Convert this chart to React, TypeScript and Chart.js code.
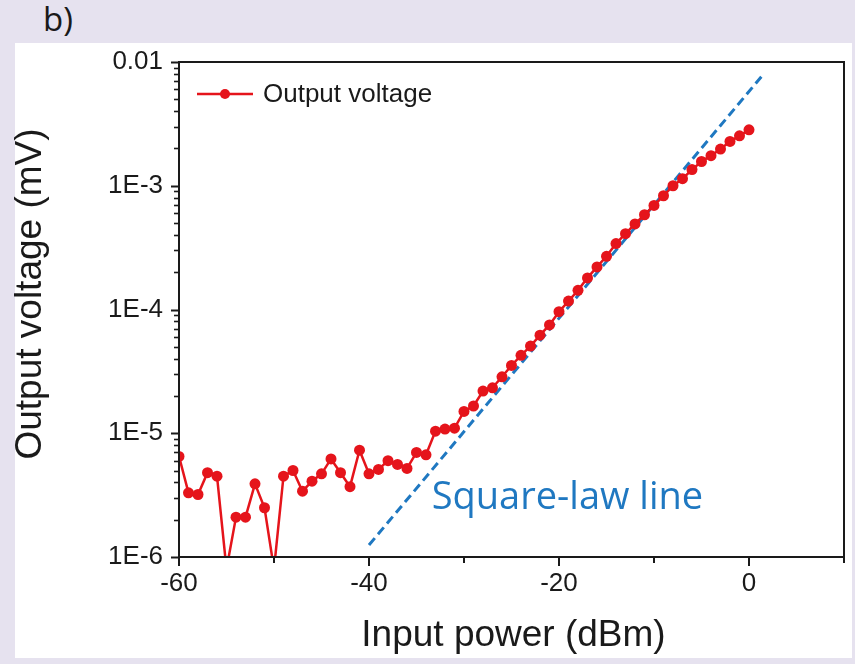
import React, { useEffect, useRef } from 'react';
import { Chart, registerables } from 'chart.js';

Chart.register(...registerables);

// ---- data ----
const inputPower: number[] = [
  -60, -59, -58, -57, -56, -55, -54, -53, -52, -51,
  -50, -49, -48, -47, -46, -45, -44, -43, -42, -41,
  -40, -39, -38, -37, -36, -35, -34, -33, -32, -31,
  -30, -29, -28, -27, -26, -25, -24, -23, -22, -21,
  -20, -19, -18, -17, -16, -15, -14, -13, -12, -11,
  -10, -9, -8, -7, -6, -5, -4, -3, -2, -1, 0,
];
const outputVoltage: number[] = [
  6.5e-6, 3.3e-6, 3.2e-6, 4.8e-6, 4.5e-6, 8e-7, 2.1e-6, 2.1e-6, 3.9e-6, 2.5e-6,
  8e-7, 4.5e-6, 5.0e-6, 3.4e-6, 4.1e-6, 4.7e-6, 6.2e-6, 4.8e-6, 3.7e-6, 7.3e-6,
  4.7e-6, 5.1e-6, 6.0e-6, 5.6e-6, 5.2e-6, 7.0e-6, 6.7e-6, 1.04e-5, 1.08e-5, 1.1e-5,
  1.5e-5, 1.66e-5, 2.19e-5, 2.33e-5, 2.86e-5, 3.53e-5, 4.26e-5, 5.06e-5, 6.2e-5, 7.5e-5,
  9.6e-5, 1.17e-4, 1.43e-4, 1.8e-4, 2.21e-4, 2.69e-4, 3.41e-4, 4.1e-4, 4.91e-4, 5.83e-4,
  6.93e-4, 8.3e-4, 1.0e-3, 1.14e-3, 1.35e-3, 1.57e-3, 1.75e-3, 1.98e-3, 2.28e-3, 2.53e-3, 2.83e-3,
];
const squareLawX: number[] = [-40, 1.3];
const squareLawY: number[] = [1.25e-6, 7.6e-3];

const xTickValues: number[] = [-60, -50, -40, -30, -20, -10, 0, 10];
const xLabelledTicks: number[] = [-60, -40, -20, 0];
const yMajorValues: number[] = [1e-6, 1e-5, 1e-4, 1e-3, 1e-2];
const yMajorLabels: string[] = ['1E-6', '1E-5', '1E-4', '1E-3', '0.01'];

const seriesLabel = 'Output voltage';
const lineLabel = 'Square-law line';
const xTitle = 'Input power (dBm)';
const yTitle = 'Output voltage (mV)';

const RED = '#e5141b';
const BLUE = '#1f78c1';
const INK = '#1a1a1a';
const SANS = '"Liberation Sans", Arial, sans-serif';

const decorPlugin = {
  id: 'decor',
  afterDraw(chart: any) {
    const { ctx, chartArea: a, scales } = chart;
    const xs = scales.x;
    const ys = scales.y;
    ctx.save();
    ctx.strokeStyle = INK;
    ctx.lineWidth = 2;
    // frame
    ctx.strokeRect(a.left, a.top, a.right - a.left, a.bottom - a.top);
    // y ticks (major + minor, outward)
    for (let e = -6; e <= -2; e++) {
      for (let m = 1; m <= 9; m++) {
        const v = m * Math.pow(10, e);
        if (v > 1.0001e-2) break;
        const py = Math.round(ys.getPixelForValue(v)) + 0.5;
        const len = m === 1 ? 8 : 5;
        ctx.lineWidth = m === 1 ? 2 : 1.6;
        ctx.beginPath();
        ctx.moveTo(a.left - len, py);
        ctx.lineTo(a.left, py);
        ctx.stroke();
      }
    }
    // x ticks
    xTickValues.forEach((v) => {
      const px = Math.round(xs.getPixelForValue(v));
      const len = xLabelledTicks.includes(v) ? 9 : 6;
      ctx.lineWidth = 2;
      ctx.beginPath();
      ctx.moveTo(px, a.bottom);
      ctx.lineTo(px, a.bottom + len);
      ctx.stroke();
    });
    // axis titles
    ctx.fillStyle = INK;
    ctx.font = `37px ${SANS}`;
    ctx.textAlign = 'center';
    ctx.textBaseline = 'middle';
    ctx.fillText(xTitle, (a.left + a.right) / 2 + 2, 636);
    ctx.save();
    ctx.translate(31, 294);
    ctx.rotate(-Math.PI / 2);
    ctx.fillText(yTitle, 0, 0);
    ctx.restore();
    // legend
    const ly = a.top + 32;
    const lx0 = a.left + 18;
    ctx.strokeStyle = RED;
    ctx.lineWidth = 2.5;
    ctx.beginPath();
    ctx.moveTo(lx0, ly);
    ctx.lineTo(lx0 + 56, ly);
    ctx.stroke();
    ctx.fillStyle = RED;
    ctx.beginPath();
    ctx.arc(lx0 + 28, ly, 5, 0, Math.PI * 2);
    ctx.fill();
    ctx.fillStyle = INK;
    ctx.font = `26px ${SANS}`;
    ctx.textAlign = 'left';
    ctx.textBaseline = 'middle';
    ctx.fillText(chart.data.datasets[0].label, lx0 + 66, ly + 1);
    // square-law label
    ctx.fillStyle = BLUE;
    ctx.font = '38px "Open Sans", sans-serif';
    ctx.fillText(lineLabel, xs.getPixelForValue(-33.4), ys.getPixelForValue(3.0e-6));
    ctx.restore();
  },
};

export default function App() {
  const ref = useRef<HTMLCanvasElement | null>(null);

  useEffect(() => {
    if (!ref.current) return;
    const chart = new Chart(ref.current, {
      type: 'line',
      data: {
        datasets: [
          {
            label: seriesLabel,
            data: inputPower.map((x, i) => ({ x, y: outputVoltage[i] })),
            borderColor: RED,
            backgroundColor: RED,
            borderWidth: 2.5,
            pointRadius: 5.5,
            pointBorderWidth: 0,
            pointBackgroundColor: RED,
            tension: 0,
            clip: { left: 0, top: 10, right: 10, bottom: 0 } as any,
          },
          {
            label: lineLabel,
            data: squareLawX.map((x, i) => ({ x, y: squareLawY[i] })),
            borderColor: BLUE,
            borderWidth: 3,
            borderDash: [9, 5],
            pointRadius: 0,
            tension: 0,
          },
        ],
      },
      options: {
        animation: false,
        responsive: false,
        events: [],
        layout: { padding: { top: 62, right: 11, left: 0, bottom: 0 } },
        plugins: { legend: { display: false }, tooltip: { enabled: false } },
        scales: {
          x: {
            type: 'linear',
            min: -60,
            max: 10,
            grid: { display: false, drawTicks: false },
            border: { display: false },
            afterBuildTicks: (s: any) => {
              s.ticks = xTickValues.map((v) => ({ value: v }));
            },
            afterFit: (s: any) => {
              s.height = 107;
            },
            ticks: {
              autoSkip: false,
              maxRotation: 0,
              padding: 11,
              color: INK,
              font: { family: SANS, size: 26 },
              callback: (v: any) => (xLabelledTicks.includes(Number(v)) ? String(v) : ''),
            },
          },
          y: {
            type: 'logarithmic',
            min: 1e-6,
            max: 1e-2,
            grid: { display: false, drawTicks: false },
            border: { display: false },
            afterBuildTicks: (s: any) => {
              s.ticks = yMajorValues.map((v) => ({ value: v }));
            },
            afterFit: (s: any) => {
              s.width = 179;
            },
            ticks: {
              autoSkip: false,
              padding: 16,
              color: INK,
              font: { family: SANS, size: 26 },
              callback: (v: any) => {
                const i = yMajorValues.findIndex((m) => Math.abs(m - Number(v)) / m < 1e-6);
                return i >= 0 ? yMajorLabels[i] : '';
              },
            },
          },
        },
      },
      plugins: [decorPlugin],
    } as any);
    return () => chart.destroy();
  }, []);

  return (
    <div
      style={{
        position: 'fixed',
        left: 0,
        top: 0,
        width: 855,
        height: 664,
        background: '#e6e2ef',
        overflow: 'hidden',
      }}
    >
      <div
        style={{
          position: 'absolute',
          left: 15,
          top: 43,
          width: 837,
          height: 615,
          background: '#ffffff',
        }}
      />
      <div
        style={{
          position: 'absolute',
          left: 43,
          top: -4,
          fontFamily: '"Open Sans", sans-serif',
          fontSize: 33,
          color: INK,
          lineHeight: '46px',
        }}
      >
        b)
      </div>
      <canvas
        ref={ref}
        width={855}
        height={664}
        style={{ position: 'absolute', left: 0, top: 0, width: 855, height: 664 }}
      />
    </div>
  );
}
